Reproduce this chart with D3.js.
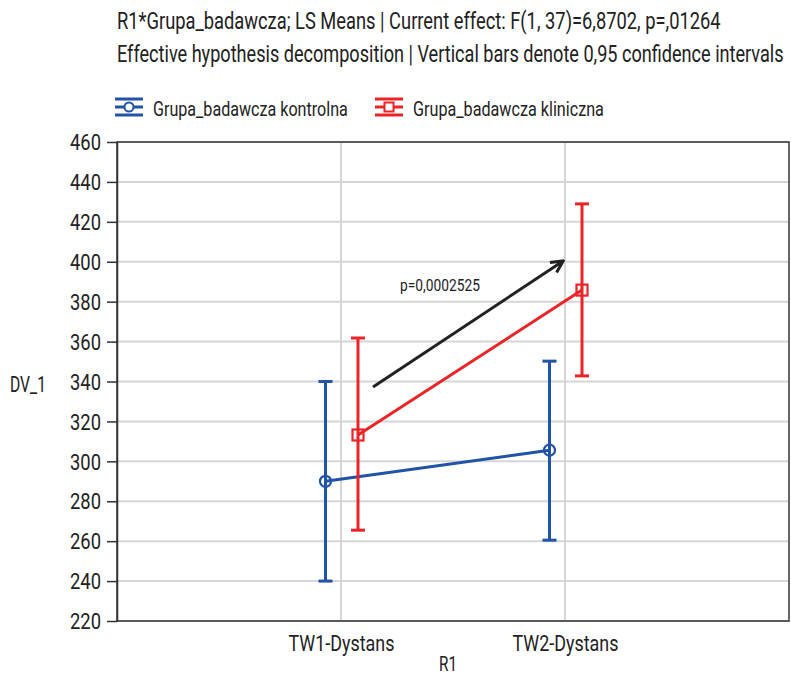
<!DOCTYPE html>
<html>
<head>
<meta charset="utf-8">
<script src="https://cdn.jsdelivr.net/npm/d3@7"></script>
<style>
  body { margin: 0; background: #fff; }
  svg text { font-family: Roboto, "DejaVu Sans", sans-serif; fill: #222; }
</style>
</head>
<body>
<svg id="chart" width="791" height="676"></svg>
<script>
// data
const categories = ["TW1-Dystans", "TW2-Dystans"];
const seriesNames = ["Grupa_badawcza kontrolna", "Grupa_badawcza kliniczna"];
const kontrolnaMean = [290, 305.6];
const kontrolnaLow = [240, 260.5];
const kontrolnaHigh = [340, 350.2];
const klinicznaMean = [313.2, 385.8];
const klinicznaLow = [265.5, 342.8];
const klinicznaHigh = [361.8, 429];
const yTicks = [220, 240, 260, 280, 300, 320, 340, 360, 380, 400, 420, 440, 460];
const titleLines = [
  "R1*Grupa_badawcza; LS Means | Current effect: F(1, 37)=6,8702, p=,01264",
  "Effective hypothesis decomposition | Vertical bars denote 0,95 confidence intervals"
];
const annotation = { text: "p=0,0002525", from: 337.2, to: 400, textAt: 388.5 };

const svg = d3.select("#chart");
const margin = {left: 117, right: 2, top: 142, bottom: 55};
const W = 791, H = 676;
const blue = "#2153a7", red = "#ec2327";

// the reference font is a condensed one, so squeeze roboto horizontally to the same width
function squeeze(sel, w){
  sel.each(function(){
    const t = d3.select(this);
    const k = w / this.getComputedTextLength();
    const x0 = +t.attr("x") || 0;
    t.attr("transform", `translate(${x0},0) scale(${k},1) translate(${-x0},0)`);
  });
}

const x = d3.scalePoint().domain(categories).range([margin.left, W - margin.right]).padding(1);
const y = d3.scaleLinear().domain([220, 460]).range([H - margin.bottom, margin.top]);

// title
svg.selectAll(".title").data(titleLines).join("text")
    .attr("class", "title")
    .attr("x", 117).attr("y", (d,i) => 29 + i*33)
    .style("font-size", "23px")
    .text(d => d)
    .each(function(d,i){ squeeze(d3.select(this), i ? 667 : 604); });

// grid
const g = svg.append("g");
g.selectAll(".hgrid").data(yTicks).join("line")
    .attr("x1", margin.left).attr("x2", W - margin.right)
    .attr("y1", d => y(d)).attr("y2", d => y(d))
    .attr("stroke", "#d6d6d6").attr("stroke-width", 2);
g.selectAll(".vgrid").data(categories).join("line")
    .attr("x1", d => x(d)).attr("x2", d => x(d))
    .attr("y1", margin.top).attr("y2", H - margin.bottom)
    .attr("stroke", "#d6d6d6").attr("stroke-width", 2);

// frame
svg.append("rect")
    .attr("x", margin.left).attr("y", margin.top)
    .attr("width", W - margin.right - margin.left).attr("height", H - margin.bottom - margin.top)
    .attr("fill", "none").attr("stroke", "#333").attr("stroke-width", 1.5);

// y axis
const yAxis = svg.append("g")
    .attr("transform", `translate(${margin.left},0)`)
    .call(d3.axisLeft(y).tickValues(yTicks).tickSize(10).tickPadding(6).tickSizeOuter(0));
yAxis.select(".domain").attr("stroke", "#333").attr("stroke-width", 1.5);
yAxis.selectAll(".tick line").attr("stroke", "#333").attr("stroke-width", 1.5);
yAxis.selectAll("text").style("font-size", "22px").attr("fill", "#222").attr("dy", "0.35em").call(squeeze, 31);

// x axis labels
const xAxis = svg.append("g")
    .attr("transform", `translate(0,${H - margin.bottom})`)
    .call(d3.axisBottom(x).tickSize(0).tickPadding(15));
xAxis.select(".domain").remove();
xAxis.selectAll("text").style("font-size", "21.5px").attr("fill", "#222").call(squeeze, 106);

svg.append("text").attr("x", 448).attr("y", 671).attr("text-anchor", "middle")
    .style("font-size", "21px").text("R1").call(squeeze, 18);
svg.append("text").attr("x", 10).attr("y", 392)
    .style("font-size", "21.5px").text("DV_1").call(squeeze, 36);

// series
const series = [
  {name: seriesNames[0], color: blue, mean: kontrolnaMean, low: kontrolnaLow, high: kontrolnaHigh, off: -15.5, marker: "circle"},
  {name: seriesNames[1], color: red, mean: klinicznaMean, low: klinicznaLow, high: klinicznaHigh, off: 17, marker: "square"}
];

series.forEach(s => {
  const sg = svg.append("g");
  const pts = categories.map((c, i) => ({c, i, x: x(c) + s.off}));
  sg.append("path")
      .attr("d", d3.line().x(d => d.x).y(d => y(s.mean[d.i]))(pts))
      .attr("fill", "none").attr("stroke", s.color).attr("stroke-width", 3);
  pts.forEach(p => {
    sg.append("line").attr("x1", p.x).attr("x2", p.x)
        .attr("y1", y(s.low[p.i])).attr("y2", y(s.high[p.i]))
        .attr("stroke", s.color).attr("stroke-width", 3);
    [s.low[p.i], s.high[p.i]].forEach(v => {
      sg.append("line").attr("x1", p.x - 7).attr("x2", p.x + 7)
          .attr("y1", y(v)).attr("y2", y(v))
          .attr("stroke", s.color).attr("stroke-width", 3);
    });
    if (s.marker === "circle") {
      sg.append("circle").attr("cx", p.x).attr("cy", y(s.mean[p.i])).attr("r", 5.5)
          .attr("fill", "none").attr("stroke", s.color).attr("stroke-width", 2.2);
    } else {
      sg.append("rect").attr("x", p.x - 5.5).attr("y", y(s.mean[p.i]) - 5.5)
          .attr("width", 11).attr("height", 11)
          .attr("fill", "none").attr("stroke", s.color).attr("stroke-width", 2.2);
    }
  });
});

// legend
const legX = [115, 375];
const legW = [195, 191];
series.forEach((s, i) => {
  const lg = svg.append("g").attr("transform", `translate(${legX[i]},107)`);
  [-8, 0, 8].forEach(dy => {
    lg.append("line").attr("x1", 0).attr("x2", 28).attr("y1", dy).attr("y2", dy)
        .attr("stroke", s.color).attr("stroke-width", 3);
  });
  if (s.marker === "circle") {
    lg.append("circle").attr("cx", 14).attr("cy", 0).attr("r", 4.5).attr("fill", "#fff").attr("stroke", s.color).attr("stroke-width", 2);
  } else {
    lg.append("rect").attr("x", 9.5).attr("y", -4.5).attr("width", 9).attr("height", 9).attr("fill", "#fff").attr("stroke", s.color).attr("stroke-width", 2);
  }
  lg.append("text").attr("x", 38).attr("y", 9).style("font-size", "20.5px").text(s.name).call(squeeze, legW[i]);
});

// annotation arrow
svg.append("defs").append("marker")
    .attr("id", "arr").attr("viewBox", "0 0 10 10").attr("refX", 8).attr("refY", 5)
    .attr("markerWidth", 5).attr("markerHeight", 5).attr("orient", "auto")
  .append("path").attr("d", "M1,1 L9,5 L1,9").attr("fill", "none").attr("stroke", "#222").attr("stroke-width", 2);
svg.append("line")
    .attr("x1", x(categories[0]) + 32).attr("y1", y(annotation.from))
    .attr("x2", x(categories[1]) - 3).attr("y2", y(annotation.to))
    .attr("stroke", "#222").attr("stroke-width", 3).attr("marker-end", "url(#arr)");
svg.append("text")
    .attr("x", x(categories[0]) + 59).attr("y", y(annotation.textAt) + 6)
    .style("font-size", "16.5px").text(annotation.text).call(squeeze, 80);
</script>
</body>
</html>
